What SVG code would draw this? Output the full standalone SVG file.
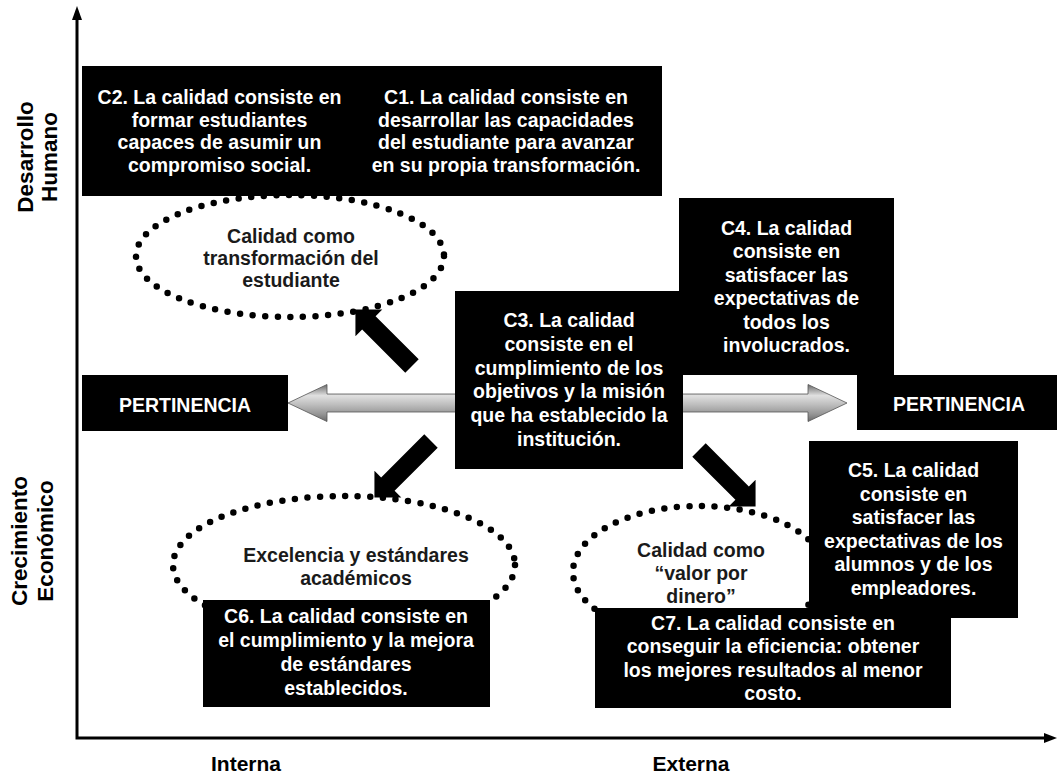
<svg xmlns="http://www.w3.org/2000/svg" width="1057" height="776" viewBox="0 0 1057 776">
  <style>
    .box { fill: #000; }
    .bt { font-family: "Liberation Sans", Arial, sans-serif; font-weight: bold; font-size: 19.5px; fill: #fff; text-anchor: middle; }
    .et { font-family: "Liberation Sans", Arial, sans-serif; font-weight: bold; font-size: 19.5px; fill: #1a1a1a; text-anchor: middle; }
    .ax { font-family: "Liberation Sans", Arial, sans-serif; font-weight: bold; font-size: 21px; fill: #000; text-anchor: middle; }
    .axv { font-size: 22.5px; }
    .dots { fill: none; stroke: #000; stroke-width: 6.5; stroke-linecap: round; stroke-dasharray: 0 12.6; }
    .axis { stroke: #000; stroke-width: 3; fill: none; }
  </style>
  <defs>
    <linearGradient id="tube" x1="0" y1="0" x2="0" y2="1">
      <stop offset="0" stop-color="#6a6a6a"/>
      <stop offset="0.3" stop-color="#e0e0e0"/>
      <stop offset="0.55" stop-color="#bdbdbd"/>
      <stop offset="0.8" stop-color="#959595"/>
      <stop offset="1" stop-color="#6a6a6a"/>
    </linearGradient>
    <!-- solid block arrow, tail at origin pointing along +x -->
    <path id="blk" d="M0,-9.5 L61,-9.5 L61,-19 L80,0 L61,19 L61,9.5 L0,9.5 Z" fill="#000"/>
  </defs>

  <rect width="1057" height="776" fill="#fff"/>

  <!-- axes -->
  <g id="axes">
    <polyline class="axis" points="77,18 77,738 1047,738"/>
    <polygon points="77,6 72,20 82,20" fill="#000"/>
    <polygon points="1057,738 1044,733 1044,743" fill="#000"/>
    <text class="ax axv" transform="translate(33,157) rotate(-90)">Desarrollo</text>
    <text class="ax axv" transform="translate(57,157) rotate(-90)">Humano</text>
    <text class="ax axv" transform="translate(27,541) rotate(-90)">Crecimiento</text>
    <text class="ax axv" transform="translate(53,541) rotate(-90)">Económico</text>
    <text class="ax" x="246" y="771">Interna</text>
    <text class="ax" x="691" y="771">Externa</text>
  </g>

  <!-- dotted ellipses -->
  <g id="e1">
    <ellipse class="dots" cx="290" cy="256" rx="154" ry="61"/>
    <text class="et" x="291" y="243">Calidad como</text>
    <text class="et" x="291" y="265">transformación del</text>
    <text class="et" x="291" y="287">estudiante</text>
  </g>
  <g id="e2">
    <ellipse class="dots" cx="344" cy="565" rx="171" ry="69"/>
    <text class="et" x="356" y="562">Excelencia y estándares</text>
    <text class="et" x="356" y="585">académicos</text>
  </g>
  <g id="e3">
    <ellipse class="dots" cx="699" cy="572" rx="126" ry="66"/>
    <text class="et" x="701" y="557">Calidad como</text>
    <text class="et" x="701" y="580">“valor por</text>
    <text class="et" x="701" y="603">dinero”</text>
  </g>

  <!-- connectors -->
  <g id="connectors">
    <path d="M288,403 L327,384.5 L327,394 L808,394 L808,384.5 L847,403 L808,421.5 L808,412 L327,412 L327,421.5 Z" fill="url(#tube)" stroke="#555" stroke-width="0.8"/>
    <use href="#blk" transform="translate(412,366) rotate(-135)"/>
    <use href="#blk" transform="translate(431,441) rotate(135)"/>
    <use href="#blk" transform="translate(699,450) rotate(45)"/>
  </g>

  <!-- boxes -->
  <g id="c2">
    <rect class="box" x="82" y="66" width="275" height="130"/>
    <text class="bt" x="219.5" y="104">C2. La calidad consiste en</text>
    <text class="bt" x="219.5" y="126.5">formar estudiantes</text>
    <text class="bt" x="219.5" y="149">capaces de asumir un</text>
    <text class="bt" x="219.5" y="171.5">compromiso social.</text>
  </g>
  <g id="c1">
    <rect class="box" x="348" y="66" width="314" height="130"/>
    <text class="bt" x="506" y="104">C1. La calidad consiste en</text>
    <text class="bt" x="506" y="126.5">desarrollar las capacidades</text>
    <text class="bt" x="506" y="149">del estudiante para avanzar</text>
    <text class="bt" x="506" y="171.5">en su propia transformación.</text>
  </g>
  <g id="c4">
    <rect class="box" x="679" y="198" width="215" height="177"/>
    <text class="bt" x="786.5" y="235">C4. La calidad</text>
    <text class="bt" x="786.5" y="258.4">consiste en</text>
    <text class="bt" x="786.5" y="281.8">satisfacer las</text>
    <text class="bt" x="786.5" y="305.2">expectativas de</text>
    <text class="bt" x="786.5" y="328.6">todos los</text>
    <text class="bt" x="786.5" y="352">involucrados.</text>
  </g>
  <g id="c3">
    <rect class="box" x="455" y="291" width="228" height="178"/>
    <text class="bt" x="569" y="327">C3. La calidad</text>
    <text class="bt" x="569" y="350.8">consiste en el</text>
    <text class="bt" x="569" y="374.6">cumplimiento de los</text>
    <text class="bt" x="569" y="398.4">objetivos y la misión</text>
    <text class="bt" x="569" y="422.2">que ha establecido la</text>
    <text class="bt" x="569" y="446">institución.</text>
  </g>
  <g id="pert-left">
    <rect class="box" x="82" y="375" width="206" height="56"/>
    <text class="bt" x="185" y="411.5">PERTINENCIA</text>
  </g>
  <g id="pert-right">
    <rect class="box" x="857" y="375" width="200" height="55"/>
    <text class="bt" x="959" y="411">PERTINENCIA</text>
  </g>
  <g id="c5">
    <rect class="box" x="809" y="441" width="209" height="177"/>
    <text class="bt" x="913.5" y="477">C5. La calidad</text>
    <text class="bt" x="913.5" y="500.6">consiste en</text>
    <text class="bt" x="913.5" y="524.2">satisfacer las</text>
    <text class="bt" x="913.5" y="547.8">expectativas de los</text>
    <text class="bt" x="913.5" y="571.4">alumnos y de los</text>
    <text class="bt" x="913.5" y="595">empleadores.</text>
  </g>
  <g id="c6">
    <rect class="box" x="203" y="600" width="287" height="107"/>
    <text class="bt" x="346" y="623">C6. La calidad consiste en</text>
    <text class="bt" x="346" y="647">el cumplimiento y la mejora</text>
    <text class="bt" x="346" y="671">de estándares</text>
    <text class="bt" x="346" y="695">establecidos.</text>
  </g>
  <g id="c7">
    <rect class="box" x="595" y="608" width="356" height="100"/>
    <text class="bt" x="773" y="630">C7. La calidad consiste en</text>
    <text class="bt" x="773" y="653.3">conseguir la eficiencia: obtener</text>
    <text class="bt" x="773" y="676.6">los mejores resultados al menor</text>
    <text class="bt" x="773" y="700">costo.</text>
  </g>
</svg>
